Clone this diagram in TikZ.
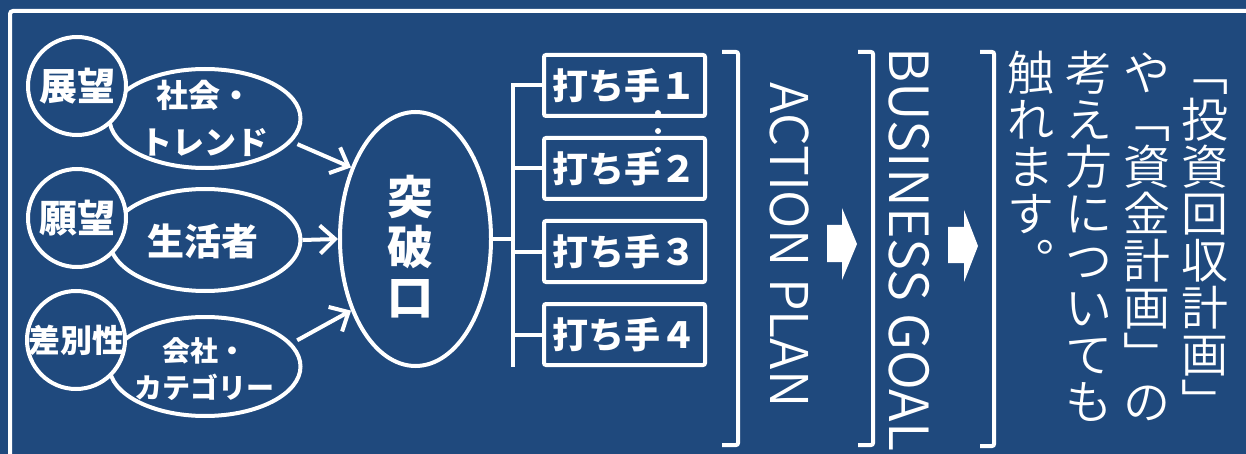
\documentclass[tikz,border=0pt]{standalone}
\usepackage{fontspec}
\setmainfont{Noto Sans CJK JP}
\IfFontExistsTF{Noto Sans CJK JP DemiLight}
  {\newfontfamily\lightfont{Noto Sans CJK JP DemiLight}}
  {\newfontfamily\lightfont{Noto Sans CJK JP}}
\usetikzlibrary{positioning, shapes.geometric, arrows.meta}
\definecolor{bgblue}{RGB}{31,73,125}
\newcommand{\ts}{\rule[-0.12em]{0pt}{1em}}

\begin{document}
\begin{tikzpicture}
		[x=1pt, y=-1pt, node distance=18pt, line width=4pt, white,
		 >={Straight Barb[length=15pt,width=28pt]},
		 maru/.style={draw, circle, fill=bgblue, minimum size=98pt},
		 oval/.style={draw, ellipse, fill=bgblue, minimum width=191pt, minimum height=99pt},
		 te/.style={draw, rounded corners=2pt, inner sep=2pt, minimum width=161pt, minimum height=61pt, font=\bfseries\fontsize{36}{36}\selectfont},
		 bold/.style={inner sep=0pt, align=center, font=\bfseries\fontsize{#1}{#1}\selectfont},
		 yoko/.style={rotate=-90, inner sep=0pt, font=\lightfont\fontsize{#1}{#1}\selectfont},
		 tate/.style={anchor=north, inner sep=0pt, align=center, font=\lightfont\fontsize{47}{47}\selectfont}]
		\fill[bgblue] (0,0) rectangle (1246,454);
		\useasboundingbox (0,0) rectangle (1246,454);
		\draw[rounded corners=3pt] (10,454) -- (10,11) -- (1246,11);

		% 左の三つ
		\node[oval] (4) at (205,118.5) {};
		\node[oval, minimum height=102pt] (5) at (205,240) {};
		\node[oval] (6) at (205,366.5) {};
		\node[maru] (1) at (77,86) {};
		\node[maru] (2) at (77,218) {};
		\node[maru] (3) at (76,340) {};
		\node[bold=38] (1t) at (1) {展望};
		\node[bold=38] (2t) at (2) {願望};
		\node[bold=32] (3t) at (3) {差別性};
		\node[bold=32, font=\bfseries\fontsize{32}{47}\selectfont] (4t) at (204,118.5) {社会・\\トレンド};
		\node[bold=37] (5t) at (203,241) {生活者};
		\node[bold=28, font=\bfseries\fontsize{28}{37}\selectfont] (6t) at (204,369) {会社・\\カテゴリー};

		\node[draw, ellipse, fill=bgblue, minimum width=151pt, minimum height=254pt] (7) at (415.5,239) {};
		\node[bold=46, font=\bfseries\fontsize{46}{50}\selectfont] (7t) at (410,247) {突\\破\\口};

		\draw[->, shorten <=6pt] (4.-15) -- (7.132);
		\draw[->] (5.east) -- (7.west);
		\draw[->, shorten <=6pt] (6.15) -- (7.228);

		% 打ち手
		\node[te] (8) at (624.5,85.5) {打ち手１};
		\node[te, below=of 8] (9) {打ち手２};
		\node[te, below=of 9] (10) {打ち手３};
		\node[te, below=of 10] (11) {打ち手４};
		\coordinate (s) at (513,367);
		\draw (7.east) -- (7.east -| s);
		\draw (8.west) -| (s);
		\foreach \n in {9,10,11}
			\draw (\n.west) -- (\n.west -| s);
		\foreach \y in {113,131,150}
			\fill (658,\y) circle (3pt);

		% 右側
		\draw[rounded corners=2pt] (722,52) -- (738,52) -- (738,445) -- (722,445);
		\node[yoko=52] (12) at (789.5,245) {ACTION PLAN};
		\fill (827,225) -- (842,225) -- (842,208) -- (857,244) -- (842,280) -- (842,262) -- (827,262) -- cycle;
		\draw[rounded corners=2pt] (858,52) -- (873,52) -- (873,445) -- (858,445);
		\node[yoko=54] (13) at (909,249.5) {BUSINESS GOAL};
		\fill (948,227) -- (964,227) -- (964,210) -- (978,246) -- (964,282) -- (964,263) -- (948,263) -- cycle;
		\draw[rounded corners=2pt] (980,52) -- (994,52) -- (994,446) -- (980,446);

		\node[tate] (14) at (1205,47) {\ts ﹁\\\ts 投\\\ts 資\\\ts 回\\\ts 収\\\ts 計\\\ts 画\\\ts ﹂};
		\node[tate] (15) at (1147,47) {\ts や\\\ts ﹁\\\ts 資\\\ts 金\\\ts 計\\\ts 画\\\ts ﹂\\\ts の};
		\node[tate] (16) at (1089,47) {\ts 考\\\ts え\\\ts 方\\\ts に\\\ts つ\\\ts い\\\ts て\\\ts も};
		\node[tate] (17) at (1031,47) {\ts 触\\\ts れ\\\ts ま\\\ts す\\\ts ︒};
		\end{tikzpicture}
\end{document}
